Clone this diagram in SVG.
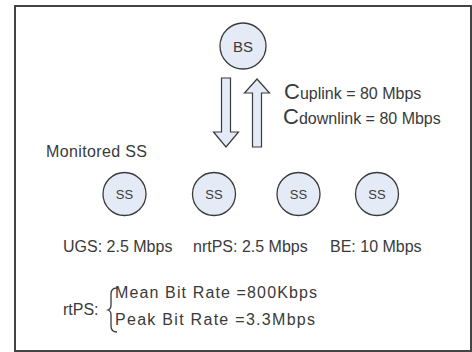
<svg xmlns="http://www.w3.org/2000/svg" width="472" height="352" viewBox="0 0 472 352">
<style>
.t{font-family:"Liberation Sans",Arial,sans-serif;fill:#3a3a3a}
.node circle{fill:#e4ebf6;stroke:#3a3a3a;stroke-width:1.3}
.arr{fill:#e4ebf6;stroke:#3a3a3a;stroke-width:1.2}
</style>
<rect x="0" y="0" width="472" height="352" fill="#ffffff"/>
<rect x="15" y="6" width="456" height="345" fill="#ffffff" stroke="#444" stroke-width="2"/>
<g id="BS" class="node"><circle cx="243" cy="46" r="23"/><text class="t" x="243" y="52" font-size="15" text-anchor="middle">BS</text></g>
<g id="connectors">
<path class="arr" d="M221.5,78 H230.5 V132 H238.5 L226,147 L213.5,132 H221.5 Z"/>
<path class="arr" d="M252.5,147 H261.5 V93 H269.5 L257,79 L244.5,93 H252.5 Z"/>
</g>
<text class="t" x="284" y="99" font-size="16"><tspan font-size="22">C</tspan>uplink = 80 Mbps</text>
<text class="t" x="283" y="124" font-size="16"><tspan font-size="22">C</tspan>downlink = 80 Mbps</text>
<text class="t" x="46" y="157" font-size="16" textLength="101" lengthAdjust="spacing">Monitored SS</text>
<g id="SS1" class="node"><circle cx="124.5" cy="194" r="21.5"/><text class="t" x="124.5" y="199" font-size="13" text-anchor="middle">SS</text></g>
<g id="SS2" class="node"><circle cx="214" cy="194" r="21.5"/><text class="t" x="214" y="199" font-size="13" text-anchor="middle">SS</text></g>
<g id="SS3" class="node"><circle cx="298.5" cy="194" r="21.5"/><text class="t" x="298.5" y="199" font-size="13" text-anchor="middle">SS</text></g>
<g id="SS4" class="node"><circle cx="377" cy="194" r="21.5"/><text class="t" x="377" y="199" font-size="13" text-anchor="middle">SS</text></g>
<text class="t" x="63" y="252" font-size="16">UGS: 2.5 Mbps</text>
<text class="t" x="193" y="252" font-size="16">nrtPS: 2.5 Mbps</text>
<text class="t" x="330" y="252" font-size="16">BE: 10 Mbps</text>
<text class="t" x="63" y="315" font-size="16">rtPS:</text>
<path d="M117,288 Q111,288 111,294 V305 Q111,309 108,310 Q111,311 111,315 V326 Q111,332 117,332" fill="none" stroke="#3a3a3a" stroke-width="1.3"/>
<text class="t" x="115" y="298" font-size="16" textLength="202" lengthAdjust="spacing">Mean Bit Rate =800Kbps</text>
<text class="t" x="115" y="325" font-size="16" textLength="200" lengthAdjust="spacing">Peak Bit Rate =3.3Mbps</text>
</svg>
